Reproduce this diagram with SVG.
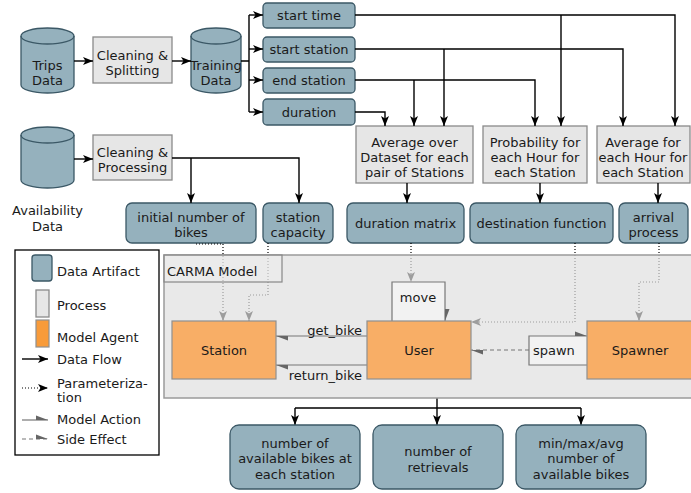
<svg xmlns="http://www.w3.org/2000/svg" width="691" height="493" viewBox="0 0 691 493">
<defs>
<marker id="arr" markerUnits="userSpaceOnUse" markerWidth="10" markerHeight="10" viewBox="0 0 10 10" refX="10" refY="5" orient="auto"><path d="M0,1 L10,5 L0,9 L2.5,5 z" fill="#000"/></marker>
<marker id="half" markerUnits="userSpaceOnUse" markerWidth="12" markerHeight="6" viewBox="0 0 12 6" refX="12" refY="5" orient="auto"><path d="M0,0.5 L12,5 L0,5 z" fill="#666"/></marker>
</defs>
<style>
text{font-family:"DejaVu Sans",Verdana,sans-serif;font-size:13px;fill:#1a1a1a}
.c{text-anchor:middle}
.e{text-anchor:end}
.data{fill:#95b1bd;stroke:#3b5866;stroke-width:1.3}
.proc{fill:#e6e6e6;stroke:#8a8a8a;stroke-width:1.3}
.agent{fill:#f8ae66;stroke:#8f8f8f;stroke-width:1.2}
.flow{fill:none;stroke:#000;stroke-width:1.4}
.param{fill:none;stroke:#000;stroke-width:1.2;stroke-dasharray:1 2}
.act{fill:none;stroke:#777;stroke-width:1.2}
.side{fill:none;stroke:#777;stroke-width:1.2;stroke-dasharray:4 3}
.loop{fill:#f2f2f2;stroke:#777;stroke-width:1.2}
</style>
<rect width="691" height="493" fill="#fff"/>

<g id="trips-data">
<path class="data" d="M21,36 A26.5,8 0 0 1 74,36 L74,85 A26.5,8 0 0 1 21,85 Z"/>
<path d="M21,36 A26.5,8 0 0 0 74,36" fill="none" stroke="#3b5866" stroke-width="1.3"/>
<text class="c" x="47.5" y="69.5">Trips</text><text class="c" x="47.5" y="85">Data</text>
</g>
<g id="cleaning-splitting">
<rect class="proc" x="93" y="37" width="79" height="46"/>
<text class="c" x="132.5" y="59.5">Cleaning &amp;</text><text class="c" x="132.5" y="74.5">Splitting</text>
</g>
<g id="training-data">
<path class="data" d="M191,36 A25,8 0 0 1 241,36 L241,85 A25,8 0 0 1 191,85 Z"/>
<path d="M191,36 A25,8 0 0 0 241,36" fill="none" stroke="#3b5866" stroke-width="1.3"/>
<text class="c" x="216" y="69.5">Training</text><text class="c" x="216" y="85">Data</text>
</g>
<g id="start-time"><rect class="data" x="263" y="3" width="92" height="25" rx="4"/><text class="c" x="309" y="20">start time</text></g>
<g id="start-station"><rect class="data" x="263" y="37" width="92" height="25" rx="4"/><text class="c" x="309" y="54">start station</text></g>
<g id="end-station"><rect class="data" x="263" y="68" width="92" height="25" rx="4"/><text class="c" x="309" y="85">end station</text></g>
<g id="duration"><rect class="data" x="263" y="99" width="92" height="26" rx="4"/><text class="c" x="309" y="117">duration</text></g>

<g id="availability-data">
<path class="data" d="M21,135 A26.5,8 0 0 1 74,135 L74,180 A26.5,8 0 0 1 21,180 Z"/>
<path d="M21,135 A26.5,8 0 0 0 74,135" fill="none" stroke="#3b5866" stroke-width="1.3"/>
<text class="c" x="47.5" y="214.5">Availability</text><text class="c" x="47.5" y="230.5">Data</text>
</g>
<g id="cleaning-processing">
<rect class="proc" x="93" y="135" width="79" height="45"/>
<text class="c" x="132.5" y="156.5">Cleaning &amp;</text><text class="c" x="132.5" y="172">Processing</text>
</g>

<g id="avg-pair"><rect class="proc" x="356" y="126" width="117" height="57"/>
<text class="c" x="414.5" y="146.5">Average over</text><text class="c" x="414.5" y="161.5">Dataset for each</text><text class="c" x="414.5" y="176.5">pair of Stations</text></g>
<g id="prob-hour"><rect class="proc" x="483" y="126" width="104" height="57"/>
<text class="c" x="535" y="146.5">Probability for</text><text class="c" x="535" y="161.5">each Hour for</text><text class="c" x="535" y="176.5">each Station</text></g>
<g id="avg-hour"><rect class="proc" x="597" y="126" width="93" height="57"/>
<text class="c" x="643" y="146.5">Average for</text><text class="c" x="643" y="161.5">each Hour for</text><text class="c" x="643" y="176.5">each Station</text></g>

<g id="initial-bikes"><rect class="data" x="126" y="203" width="130" height="40" rx="6"/><text class="c" x="191" y="221.5">initial number of</text><text class="c" x="191" y="236.5">bikes</text></g>
<g id="station-capacity"><rect class="data" x="263" y="203" width="70" height="40" rx="6"/><text class="c" x="298" y="221.5">station</text><text class="c" x="298" y="236.5">capacity</text></g>
<g id="duration-matrix"><rect class="data" x="347" y="203" width="117" height="40" rx="6"/><text class="c" x="405.5" y="228">duration matrix</text></g>
<g id="destination-function"><rect class="data" x="470" y="203" width="143" height="40" rx="6"/><text class="c" x="541.5" y="228">destination function</text></g>
<g id="arrival-process"><rect class="data" x="619" y="203" width="69" height="40" rx="6"/><text class="c" x="653.5" y="221.5">arrival</text><text class="c" x="653.5" y="236.5">process</text></g>

<g id="legend">
<rect x="15" y="250" width="144" height="205" fill="#fff" stroke="#000" stroke-width="1.3"/>
<rect class="data" x="32" y="255" width="20" height="26" rx="3"/><text x="57" y="275.5">Data Artifact</text>
<rect class="proc" x="36" y="290" width="13" height="27"/><text x="57" y="309.5">Process</text>
<rect x="36" y="320" width="13" height="27" fill="#f89b3a" stroke="#8f8f8f" stroke-width="1.2"/><text x="57" y="341.5">Model Agent</text>
<line class="flow" x1="22" y1="359" x2="48" y2="359" marker-end="url(#arr)"/><text x="57" y="363.5">Data Flow</text>
<line class="param" x1="22" y1="388" x2="48" y2="388" marker-end="url(#arr)"/><text x="57" y="387.5">Parameteriza-</text><text x="57" y="401.5">tion</text>
<line class="act" x1="22" y1="420" x2="48" y2="420" marker-end="url(#half)"/><text x="57" y="424">Model Action</text>
<line class="side" x1="22" y1="439" x2="48" y2="439" marker-end="url(#half)"/><text x="57" y="444">Side Effect</text>
</g>

<g id="connectors">
<path class="flow" d="M74,61 H93" marker-end="url(#arr)"/>
<path class="flow" d="M172,61 H191" marker-end="url(#arr)"/>
<path class="flow" d="M241,61 H249 M249,15 V112"/>
<path class="flow" d="M249,15 H263" marker-end="url(#arr)"/>
<path class="flow" d="M249,49 H263" marker-end="url(#arr)"/>
<path class="flow" d="M249,80 H263" marker-end="url(#arr)"/>
<path class="flow" d="M249,112 H263" marker-end="url(#arr)"/>
<path class="flow" d="M355,15 H675 V126" marker-end="url(#arr)"/>
<path class="flow" d="M561,15 V126" marker-end="url(#arr)"/>
<path class="flow" d="M355,49 H623 V126" marker-end="url(#arr)"/>
<path class="flow" d="M444,49 V126" marker-end="url(#arr)"/>
<path class="flow" d="M355,80 H535 V126" marker-end="url(#arr)"/>
<path class="flow" d="M414,80 V126" marker-end="url(#arr)"/>
<path class="flow" d="M355,112 H385 V126" marker-end="url(#arr)"/>
<path class="flow" d="M407,183 V203" marker-end="url(#arr)"/>
<path class="flow" d="M540,183 V203" marker-end="url(#arr)"/>
<path class="flow" d="M658,183 V203" marker-end="url(#arr)"/>
<path class="flow" d="M74,159 H93" marker-end="url(#arr)"/>
<path class="flow" d="M172,158 H299 V203" marker-end="url(#arr)"/>
<path class="flow" d="M191,158 V203" marker-end="url(#arr)"/>
<path class="param" d="M196,244 H223 V321" marker-end="url(#arr)"/>
<path class="param" d="M268,243 V295 H249 V321" marker-end="url(#arr)"/>
<path class="param" d="M411,243 V282" marker-end="url(#arr)"/>
<path class="param" d="M575,243 V322 H471" marker-end="url(#arr)"/>
<path class="param" d="M659,243 V282 H639 V321" marker-end="url(#arr)"/>
<path class="flow" d="M437,398 V408 M295,408 H581"/>
<path class="flow" d="M295,408 V425" marker-end="url(#arr)"/>
<path class="flow" d="M437,408 V425" marker-end="url(#arr)"/>
<path class="flow" d="M581,408 V425" marker-end="url(#arr)"/>
</g>

<g id="carma-model">
<rect x="164" y="255" width="540" height="143" fill="#e0e0e0" fill-opacity="0.7" stroke="#9a9a9a" stroke-width="1.5"/>
<rect x="164" y="255" width="118" height="27" fill="#f2f2f2" fill-opacity="0.3" stroke="#888" stroke-width="1.2"/>
<text x="167" y="275.5">CARMA Model</text>
</g>

<g id="model-actions">
<path class="loop" d="M392,321 V282 H445 V321" marker-end="url(#half)"/>
<path class="loop" d="M587,365 H529 V336 H587" marker-end="url(#half)"/>
<path class="act" d="M367,336 H276" marker-end="url(#half)"/>
<path class="act" d="M367,365 H276" marker-end="url(#half)"/>
<path class="side" d="M529,350 H471" marker-end="url(#half)"/>
<text class="c" x="418" y="301.5">move</text>
<text x="533" y="355">spawn</text>
<text class="e" x="362" y="335">get_bike</text>
<text class="e" x="362" y="380">return_bike</text>
</g>

<g id="station"><rect class="agent" x="172" y="321" width="104" height="58"/><text class="c" x="224" y="354.5">Station</text></g>
<g id="user"><rect class="agent" x="367" y="321" width="104" height="58"/><text class="c" x="419" y="354.5">User</text></g>
<g id="spawner"><rect class="agent" x="587" y="321" width="106" height="58"/><text class="c" x="640" y="354.5">Spawner</text></g>

<g id="out-available"><rect class="data" x="230" y="425" width="130" height="64" rx="9"/>
<text class="c" x="295" y="447.5">number of</text><text class="c" x="295" y="463">available bikes at</text><text class="c" x="295" y="478.5">each station</text></g>
<g id="out-retrievals"><rect class="data" x="373" y="425" width="130" height="64" rx="9"/>
<text class="c" x="438" y="456">number of</text><text class="c" x="438" y="471.5">retrievals</text></g>
<g id="out-minmax"><rect class="data" x="516" y="425" width="130" height="64" rx="9"/>
<text class="c" x="581" y="447.5">min/max/avg</text><text class="c" x="581" y="463">number of</text><text class="c" x="581" y="478.5">available bikes</text></g>
</svg>
